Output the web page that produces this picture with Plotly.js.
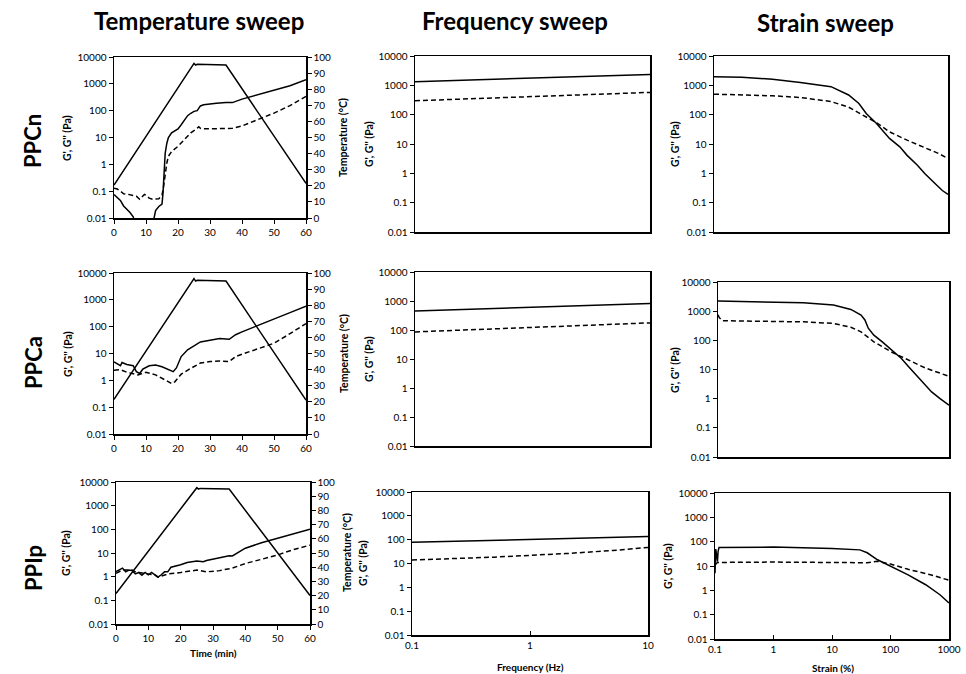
<!DOCTYPE html>
<html>
<head>
<meta charset="utf-8">
<script src="https://cdn.plot.ly/plotly-3.0.1.min.js"></script>
<style>html,body{margin:0;padding:0;background:#fff;}#chart{width:966px;height:674px;}</style>
</head>
<body>
<div id="chart"></div>
<script>
// ---------- DATA ----------
// Temperature sweep (time in min)
const ppcnTimeG1 = [0,1,2,3,4,5,6,6.5,8,10,12,12.5,13,14,15,15.3,15.5,16,16.5,17,18,19,20,21,22,23,24,25,26,27,28,30,32,35,37,40,45,50,55,60];
const ppcnG1     = [0.075,0.06,0.045,0.028,0.022,0.016,0.011,0.007,0.004,0.004,0.005,0.01,0.019,0.027,0.033,0.08,0.2,2.6,6,10,15,18,21,30,46,65,80,94,100,150,165,180,190,200,200,270,400,570,850,1430];
const ppcnTimeG2 = [0,1,2,3,4,5,6,7,8,9,9.5,10,11,12,13,14,14.5,15,15.5,16,16.5,17,18,20,22,24,25.5,26.5,27,28,30,35,37,40,45,50,55,60];
const ppcnG2     = [0.13,0.12,0.1,0.08,0.078,0.075,0.07,0.065,0.05,0.065,0.075,0.07,0.055,0.05,0.05,0.052,0.06,0.07,0.15,0.47,1.1,2,3,4.7,8.5,15,20,25,22,21,21,21.5,22,27,46,81,155,340];

const ppcaTimeG1 = [0,1,2,2.5,4,6,7,8,9,11,13,15,17,18.5,19.5,21,23,25,27,30,33,36,38,40,45,50,55,60];
const ppcaG1     = [4.9,4.2,3.5,4.6,3.9,3.5,2.1,1.8,2.6,3.5,3.7,3.2,2.6,2.1,2.9,7.7,13.8,19,27,31,36,34,50,64,113,200,335,575];
const ppcaTimeG2 = [0,2,4,6,7.5,10,13,16,18,19,21,24,27,30,33,36,38,40,45,50,55,60];
const ppcaG2     = [2.4,2.5,2.0,1.7,1.6,2.0,1.6,1.03,0.76,0.88,1.7,2.8,4.4,5,5.3,5,7.7,9.4,14.6,24,55,130];

const ppipTimeG1 = [0,1,2,3,4,5,6,7,8,9,10,11,12,13,14,15,16,17,20,22,25,27,28,30,33,35,36,40,45,50,55,60];
const ppipG1     = [1.64,2.0,2.3,1.6,1.9,1.8,1.3,1.5,1.15,1.5,1.2,1.5,1.2,0.95,1.2,1.6,1.6,2.5,3.2,4,4.6,4.3,4.8,5.6,7.1,7.7,7.5,16,27,41,63,100];
const ppipTimeG2 = [0,1,2,3,5,6,8,10,12,13,14,16,20,25,28,32,36,40,45,50,55,60];
const ppipG2     = [1.4,1.7,1.9,1.9,1.9,1.6,1.4,1.3,1.2,0.95,1.05,1.3,1.5,1.9,1.6,1.8,2.3,3.6,5.4,8.3,14,21.5];

const tempTime = [0,25,25.5,26,35,60];
const ppcnTemp = [20.5,96,95,95.5,95,21.5];
const ppcaTemp = [21.5,96.5,95,95.5,95,21];
const ppipTemp = [21.5,96,95,95.5,95,20];

// Frequency sweep (Hz)
const freq    = [0.1,0.2,0.5,1,2,5,10];
const ppcnFG1 = [1330,1450,1620,1770,1930,2160,2360];
const ppcnFG2 = [298,328,375,410,455,520,575];
const ppcaFG1 = [455,500,560,610,670,750,815];
const ppcaFG2 = [86,95,110,122,136,158,176];
const ppipFG1 = [78,84,95,104,112,124,135];
const ppipFG2 = [14,15.5,18.5,22,26,35,47];

// Strain sweep (%)
const ppcnStrainG1 = [0.1,0.3,1,3,10,20,30,40,60,80,100,150,200,300,400,600,800,1000];
const ppcnSG1      = [1970,1900,1600,1260,900,470,240,110,50,26,15.5,8,4.1,1.9,0.98,0.45,0.26,0.19];
const ppcnStrainG2 = [0.1,1,3,10,20,40,60,100,200,400,700,1000];
const ppcnSG2      = [500,440,385,280,180,85,53,26,13.5,7.5,4.7,3.2];

const ppcaStrainG1 = [0.1,1,3,10,20,30,35,40,50,70,100,150,200,300,500,700,1000];
const ppcaSG1      = [2220,2100,1950,1620,1150,740,500,260,150,89,49,24,12.5,5,1.7,1.0,0.6];
const ppcaStrainG2 = [0.1,0.105,0.12,1,3,10,20,30,50,100,200,400,700,1000];
const ppcaSG2      = [750,600,470,455,430,380,280,195,89,40,21,11,7.5,5.8];

const ppipStrainG1 = [0.1,0.103,0.106,0.11,0.113,0.117,1,10,30,40,60,100,200,400,700,1000];
const ppipSG1      = [5,50,30,15,40,57,60,53,46,35,18,10,4.3,1.7,0.66,0.3];
const ppipStrainG2 = [0.1,0.11,1,10,40,60,100,200,500,1000];
const ppipSG2      = [11,14,14.5,13.6,13.6,15.5,12,7.3,4.3,2.6];

// Tick labels
const logTickVals = [0.01,0.1,1,10,100,1000,10000];
const logTickText = ['0.01','0.1','1','10','100','1000','10000'];
const freqTickVals = [0.1,1,10];
const freqTickText = ['0.1','1','10'];
const strainTickVals = [0.1,1,10,100,1000];
const strainTickText = ['0.1','1','10','100','1000'];
const rowLabels = ['PPCn','PPCa','PPIp'];
const colTitles = ['Temperature sweep','Frequency sweep','Strain sweep'];

// ---------- LAYOUT HELPERS ----------
const W = 966, H = 674;
const dx = (a,b) => [a/W, b/W];
const dy = (top,bot) => [1-bot/H, 1-top/H];
const FONT = 'Lato, "Liberation Sans", sans-serif';
const tickFont = {family: FONT, size: 10, color: '#000'};

function solid(x,y,xa,ya){return {x:x,y:y,xaxis:xa,yaxis:ya,mode:'lines',line:{color:'#000',width:1.5},hoverinfo:'skip',showlegend:false};}
function dashed(x,y,xa,ya){return {x:x,y:y,xaxis:xa,yaxis:ya,mode:'lines',line:{color:'#000',width:1.5,dash:'5px,3px'},hoverinfo:'skip',showlegend:false};}

const data = [
  solid(ppcnTimeG1,ppcnG1,'x','y'), dashed(ppcnTimeG2,ppcnG2,'x','y'), solid(tempTime,ppcnTemp,'x','y10'),
  solid(ppcaTimeG1,ppcaG1,'x2','y2'), dashed(ppcaTimeG2,ppcaG2,'x2','y2'), solid(tempTime,ppcaTemp,'x2','y11'),
  solid(ppipTimeG1,ppipG1,'x3','y3'), dashed(ppipTimeG2,ppipG2,'x3','y3'), solid(tempTime,ppipTemp,'x3','y12'),
  solid(freq,ppcnFG1,'x4','y4'), dashed(freq,ppcnFG2,'x4','y4'),
  solid(freq,ppcaFG1,'x5','y5'), dashed(freq,ppcaFG2,'x5','y5'),
  solid(freq,ppipFG1,'x6','y6'), dashed(freq,ppipFG2,'x6','y6'),
  solid(ppcnStrainG1,ppcnSG1,'x7','y7'), dashed(ppcnStrainG2,ppcnSG2,'x7','y7'),
  solid(ppcaStrainG1,ppcaSG1,'x8','y8'), dashed(ppcaStrainG2,ppcaSG2,'x8','y8'),
  solid(ppipStrainG1,ppipSG1,'x9','y9'), dashed(ppipStrainG2,ppipSG2,'x9','y9')
];

const axLine = {showline:true, linecolor:'#000', linewidth:1.5, showgrid:false, zeroline:false, tickfont:tickFont, ticks:'outside', ticklen:4, tickcolor:'#000', automargin:false};

function timeX(domain, anchor){return Object.assign({}, axLine, {domain:domain, anchor:anchor, range:[0,60], tickvals:[0,10,20,30,40,50,60], mirror:true});}
function logY(domain, anchor, mirror){return Object.assign({}, axLine, {domain:domain, anchor:anchor, type:'log', range:[-2,4], tickvals:logTickVals, ticktext:logTickText, mirror:mirror});}
function tempY(over, anchor){return Object.assign({}, axLine, {overlaying:over, anchor:anchor, side:'right', range:[0,100], dtick:10, tick0:0});}
function logX(domain, anchor, range, vals, text, show){return Object.assign({}, axLine, {domain:domain, anchor:anchor, type:'log', range:range, tickvals:vals, ticktext:text, showticklabels:show, mirror:true, ticks: show ? 'inside':'' });}

const layout = {
  width: W, height: H,
  margin: {l:0, r:0, t:0, b:0},
  paper_bgcolor:'#fff', plot_bgcolor:'#fff',
  showlegend:false,
  font:{family:FONT, color:'#000'},
  xaxis:  timeX(dx(114,306),'y'),
  yaxis:  logY(dy(57,218),'x',false),
  yaxis10: tempY('y','x'),
  xaxis2: timeX(dx(114,306),'y2'),
  yaxis2: logY(dy(273,434),'x2',false),
  yaxis11: tempY('y2','x2'),
  xaxis3: timeX(dx(116,310),'y3'),
  yaxis3: logY(dy(482,624),'x3',false),
  yaxis12: tempY('y3','x3'),
  xaxis4: logX(dx(415,650),'y4',[-1,1],freqTickVals,freqTickText,false),
  yaxis4: logY(dy(56,232),'x4',true),
  xaxis5: logX(dx(415,650),'y5',[-1,1],freqTickVals,freqTickText,false),
  yaxis5: logY(dy(272,446),'x5',true),
  xaxis6: logX(dx(412,648),'y6',[-1,1],freqTickVals,freqTickText,true),
  yaxis6: logY(dy(492,635),'x6',true),
  xaxis7: logX(dx(714,948),'y7',[-1,3],strainTickVals,strainTickText,false),
  yaxis7: logY(dy(56,232),'x7',true),
  xaxis8: logX(dx(718,949),'y8',[-1,3],strainTickVals,strainTickText,false),
  yaxis8: logY(dy(282,457),'x8',true),
  xaxis9: logX(dx(715,949),'y9',[-1,3],strainTickVals,strainTickText,true),
  yaxis9: logY(dy(493,639),'x9',true),
  annotations: []
};

function ann(text, px, py, size, angle, bold){
  layout.annotations.push({text: bold ? '<b>'+text+'</b>' : text, x:px/W, y:1-py/H, xref:'paper', yref:'paper', showarrow:false, textangle:angle, font:{family:FONT, size:size, color:'#000'}, xanchor:'center', yanchor:'middle'});
}
// Column titles
ann(colTitles[0], 199, 20, 24, 0, true);
ann(colTitles[1], 515, 20, 24, 0, true);
ann(colTitles[2], 825, 22, 24, 0, true);
// Row labels
ann(rowLabels[0], 33, 141, 22, -90, true);
ann(rowLabels[1], 33, 363, 22, -90, true);
ann(rowLabels[2], 33, 568, 22, -90, true);
// Y axis titles
const gLabel = "G', G'' (Pa)";
const ls = 10.5;
ann(gLabel, 67, 138, ls, -90, true);
ann(gLabel, 68, 354, ls, -90, true);
ann(gLabel, 66, 553, ls, -90, true);
ann(gLabel, 369, 144, ls, -90, true);
ann(gLabel, 369, 359, ls, -90, true);
ann(gLabel, 363, 563, ls, -90, true);
ann(gLabel, 675, 144, ls, -90, true);
ann(gLabel, 675, 370, ls, -90, true);
ann(gLabel, 668, 566, ls, -90, true);
const tLabel = 'Temperature (°C)';
ann(tLabel, 343, 138, ls, -90, true);
ann(tLabel, 344, 354, ls, -90, true);
ann(tLabel, 347, 553, ls, -90, true);
// X axis titles
ann('Time (min)', 213, 653, 10, 0, true);
ann('Frequency (Hz)', 530, 667, 10, 0, true);
ann('Strain (%)', 833, 668, 10, 0, true);

Plotly.newPlot('chart', data, layout, {staticPlot:true, displayModeBar:false});
</script>
</body>
</html>
